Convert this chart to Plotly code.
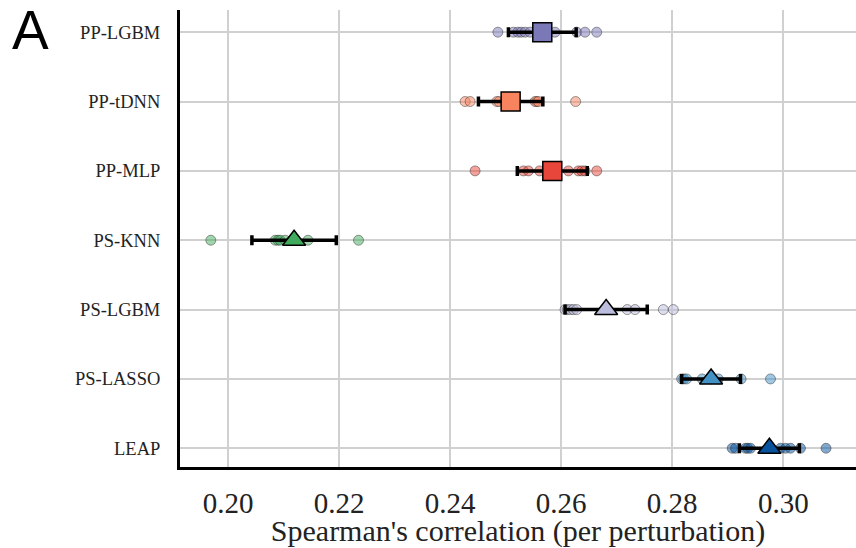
import plotly.graph_objects as go

# ---- data ----
models = ["PP-LGBM", "PP-tDNN", "PP-MLP", "PS-KNN", "PS-LGBM", "PS-LASSO", "LEAP"]
pp_lgbm = [0.2486, 0.2514, 0.2522, 0.2528, 0.2535, 0.2544, 0.2589, 0.2628, 0.2643, 0.2664]
pp_tdnn = [0.2427, 0.2436, 0.2484, 0.2488, 0.2505, 0.2553, 0.2556, 0.2559, 0.2626]
pp_mlp = [0.2445, 0.2532, 0.2541, 0.2561, 0.2578, 0.2613, 0.2631, 0.2637, 0.2643, 0.2664]
ps_knn = [0.1969, 0.2085, 0.2090, 0.2094, 0.2103, 0.2115, 0.2144, 0.2235]
ps_lgbm = [0.2607, 0.2611, 0.2617, 0.2622, 0.2628, 0.2719, 0.2733, 0.2784, 0.2802]
ps_lasso = [0.2817, 0.2821, 0.2826, 0.2854, 0.2870, 0.2883, 0.2924, 0.2977]
leap = [0.2908, 0.2914, 0.2932, 0.2936, 0.2941, 0.2995, 0.3004, 0.3013, 0.3031, 0.3077]
points = [pp_lgbm, pp_tdnn, pp_mlp, ps_knn, ps_lgbm, ps_lasso, leap]

means = [0.2566, 0.2509, 0.2584, 0.2119, 0.2681, 0.2870, 0.2975]
errors = [0.0061, 0.0058, 0.0063, 0.0076, 0.0074, 0.0053, 0.0054]
colors = ["#7b78b8", "#f7845f", "#e8463a", "#41ab5d", "#bcbddc", "#4292c6", "#08519c"]
symbols = ["square", "square", "square", "triangle-up", "triangle-up", "triangle-up", "triangle-up"]

xticks = [0.20, 0.22, 0.24, 0.26, 0.28, 0.30]
xtick_text = ["0.20", "0.22", "0.24", "0.26", "0.28", "0.30"]
order_bottom_to_top = ["LEAP", "PS-LASSO", "PS-LGBM", "PS-KNN", "PP-MLP", "PP-tDNN", "PP-LGBM"]


def hex_rgba(h, a):
    h = h.lstrip("#")
    r, g, b = int(h[0:2], 16), int(h[2:4], 16), int(h[4:6], 16)
    return f"rgba({r},{g},{b},{a})"


fig = go.Figure()

for m, pts, c in zip(models, points, colors):
    fig.add_trace(go.Scatter(
        x=pts, y=[m] * len(pts), mode="markers",
        marker=dict(symbol="circle", size=10, color=hex_rgba(c, 0.5),
                    line=dict(color="rgba(40,40,40,0.45)", width=1)),
        showlegend=False, hoverinfo="x+y"))

for m, mu, e, c, s in zip(models, means, errors, colors, symbols):
    fig.add_trace(go.Scatter(
        x=[mu], y=[m], mode="markers",
        error_x=dict(type="data", array=[e], color="black", thickness=3.5, width=5),
        marker=dict(symbol=s, size=19 if s == "square" else 20, color=c,
                    line=dict(color="black", width=1.5)),
        showlegend=False))

fig.add_annotation(text="A", xref="paper", yref="paper", x=-0.252, y=1.0219,
                   xanchor="left", yanchor="top", height=56, valign="middle",
                   showarrow=False,
                   font=dict(family="Liberation Sans", size=55, color="black"))

fig.update_layout(
    width=856, height=548,
    margin=dict(l=180, r=0, t=10, b=81),
    paper_bgcolor="white", plot_bgcolor="white",
    font=dict(family="Liberation Serif", color="#222222"),
    xaxis=dict(
        range=[0.19135, 0.3131], tickvals=xticks, ticktext=xtick_text,
        showgrid=True, gridcolor="#d0d0d0", gridwidth=2,
        showline=True, linecolor="black", linewidth=3,
        ticks="", ticklabelstandoff=8, zeroline=False,
        tickfont=dict(family="Liberation Serif", size=29, color="#222222"),
        title=dict(text="Spearman's correlation (per perturbation)", standoff=8,
                   font=dict(family="Liberation Serif", size=30, color="#222222")),
    ),
    yaxis=dict(
        type="category", categoryorder="array", categoryarray=order_bottom_to_top,
        range=[-0.27, 6.32],
        showgrid=True, gridcolor="#d0d0d0", gridwidth=2,
        showline=True, linecolor="black", linewidth=3,
        ticks="", ticklabelstandoff=13, zeroline=False,
        tickfont=dict(family="Liberation Serif", size=18.5, color="#222222"),
    ),
)

fig.write_html("out.html")
